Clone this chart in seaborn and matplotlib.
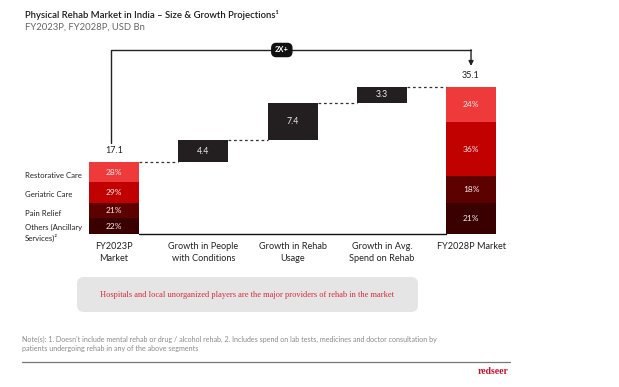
import numpy as np
import pandas as pd
import matplotlib
matplotlib.use("Agg")
import matplotlib.pyplot as plt
import seaborn as sns
from matplotlib.patches import FancyBboxPatch
from matplotlib.transforms import IdentityTransform

# ---------------- data ----------------
categories = ["FY2023P\nMarket", "Growth in People\nwith Conditions", "Growth in Rehab\nUsage",
              "Growth in Avg.\nSpend on Rehab", "FY2028P Market"]
start_total = 17.1
end_total = 35.1
growth_values = [4.4, 7.4, 3.3]
segments = ["Restorative Care", "Geriatric Care", "Pain Relief", "Others (Ancillary\nServices)²"]
share_2023 = [28, 29, 21, 22]
share_2028 = [24, 36, 18, 21]
seg_colors = ["#ee3a3a", "#c10000", "#5c0000", "#3a0000"]
box_color = "#231f20"

# ---------------- style ----------------
sns.set_theme(style="white")
plt.rcParams["font.family"] = ["Lato", "DejaVu Sans"]

W, H = 619, 387
fig = plt.figure(figsize=(W / 100, H / 100), dpi=100)
fig.patch.set_facecolor("white")

def fx(px):
    return px / W

def fy(py):
    return 1 - py / H

base_px, top_px = 234, 40
ppu = 4.2  # pixels per unit
ax = fig.add_axes([fx(69.4), fy(base_px), 446.25 / W, (base_px - top_px) / H])
ax.set_facecolor("none")
bw = 0.56

# stacked total bars
def stacked(cat_idx, total, shares):
    ssum = sum(shares)
    bottom = 0.0
    order_idx = list(range(len(shares)))[::-1]  # draw from bottom (last segment) up
    for k in order_idx:
        h = total * shares[k] / ssum
        sns.barplot(x=[categories[cat_idx]], y=[h], order=categories, bottom=bottom,
                    color=seg_colors[k], saturation=1, width=bw, errorbar=None, ax=ax,
                    linewidth=0)
        ax.text(cat_idx, bottom + h / 2, f"{shares[k]}%", ha="center", va="center",
                color="#f4eaea", fontsize=6)
        bottom += h

stacked(0, start_total, share_2023)
stacked(4, end_total, share_2028)

# waterfall steps (drawn to span exactly from start to end total)
scale = (end_total - start_total) / sum(growth_values)
level = start_total
levels = [start_total]
for i, g in enumerate(growth_values):
    h = g * scale
    sns.barplot(x=[categories[i + 1]], y=[h], order=categories, bottom=level,
                color=box_color, saturation=1, width=bw, errorbar=None, ax=ax,
                linewidth=0)
    ax.text(i + 1, level + h / 2, f"{g}", ha="center", va="center",
            color="#eeeeee", fontsize=6.3)
    level += h
    levels.append(level)

# dashed connectors
for i, lv in enumerate(levels):
    ax.plot([i + bw / 2, i + 1 - bw / 2], [lv, lv], color="#333333", lw=0.9,
            linestyle=(0, (2.2, 2.2)), clip_on=False)

# baseline
ax.plot([bw / 2, 4 - bw / 2], [0, 0], color="#111111", lw=1.0, clip_on=False)

# totals labels
for idx, tot in [(0, start_total), (4, end_total)]:
    ax.annotate(f"{tot}", xy=(idx, tot), xytext=(0, 5), textcoords="offset points",
                ha="center", va="bottom", fontsize=6.5, color="#222222")

# bracket with arrow
y_br = (base_px - 50) / ppu
y_start = (base_px - 143) / ppu
y_tip = (base_px - 66) / ppu
ax.plot([-0.03, -0.03, 4], [y_start, y_br, y_br], color="#222222", lw=1.0, clip_on=False)
ax.annotate("", xy=(4, y_tip), xytext=(4, y_br + 0.05),
            arrowprops=dict(arrowstyle="-|>", color="#222222", lw=1.0, mutation_scale=7,
                            shrinkA=0, shrinkB=0), annotation_clip=False)
ax.text(1.88, y_br, "2X+", ha="center", va="center", color="white", fontsize=5.5,
        fontweight="bold",
        bbox=dict(boxstyle="round,pad=0.4,rounding_size=0.6", facecolor="#111111",
                  edgecolor="#111111"))

ax.set_xlim(-0.5, 4.5)
ax.set_ylim(0, (base_px - top_px) / ppu)
ax.set_xticks(range(len(categories)))
ax.set_xticklabels(categories, fontsize=6.6, color="#222222", linespacing=1.4)
ax.tick_params(axis="x", length=0, pad=6)
ax.set_yticks([])
ax.set_xlabel("")
ax.set_ylabel("")
for s in ax.spines.values():
    s.set_visible(False)

# left segment labels
seg_label_y = [175, 194, 213, 233]
for lab, py in zip(segments, seg_label_y):
    fig.text(fx(25), fy(py), lab, ha="left", va="center", fontsize=5.6, color="#222222",
             linespacing=1.4)

# titles
fig.text(fx(25), fy(15), "Physical Rehab Market in India – Size & Growth Projections¹",
         ha="left", va="center", fontsize=6.8, color="#1a1a1a", fontweight="semibold")
fig.text(fx(25), fy(27), "FY2023P, FY2028P, USD Bn", ha="left", va="center",
         fontsize=6.8, color="#666666")

# grey callout
box = FancyBboxPatch((77, H - 312), 341, 35, boxstyle="round,pad=0,rounding_size=7",
                     transform=IdentityTransform(), facecolor="#e5e5e5", edgecolor="none")
fig.add_artist(box)
fig.text(fx(247), fy(295),
         "Hospitals and local unorganized players are the major providers of rehab in the market",
         ha="center", va="center", fontsize=6, color="#d42a3a",
         family=["Liberation Serif", "DejaVu Serif"])

# notes
fig.text(fx(22), fy(344),
         "Note(s): 1. Doesn't include mental rehab or drug / alcohol rehab, 2. Includes spend on lab tests, medicines and doctor consultation by\npatients undergoing rehab in any of the above segments",
         ha="left", va="center", fontsize=5.1, color="#8a8a8a", linespacing=1.3)

# footer rule and brand
fig.add_artist(plt.Line2D([fx(22), fx(510)], [fy(362), fy(362)], color="#777777", lw=0.9,
                          transform=fig.transFigure))
fig.text(fx(509), fy(372), "redseer", ha="right", va="center", fontsize=7,
         color="#c8102e", fontweight="bold", family=["Liberation Serif", "DejaVu Serif"])

fig.savefig("out.png", dpi=100)
